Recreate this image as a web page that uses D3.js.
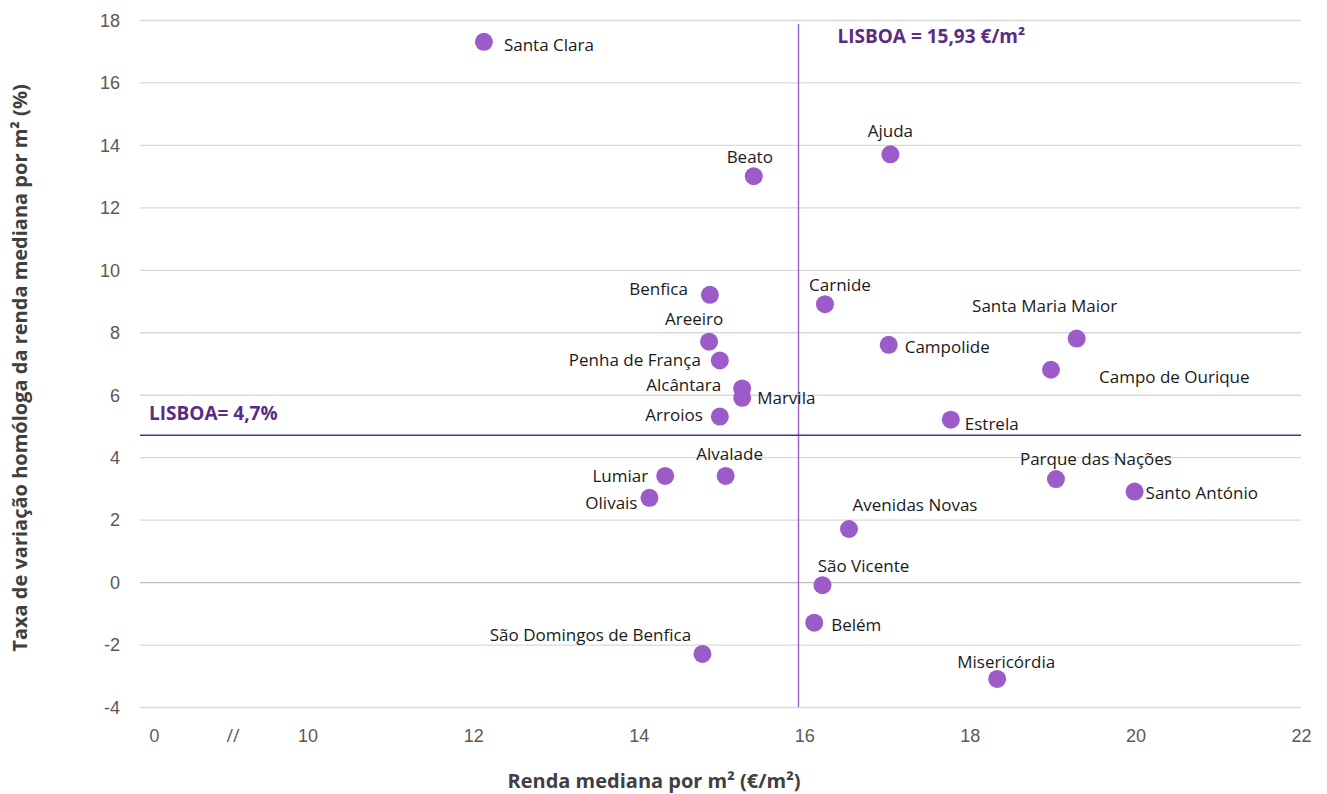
<!DOCTYPE html>
<html>
<head>
<meta charset="utf-8">
<script src="https://cdn.jsdelivr.net/npm/d3@7"></script>
<style>
  html, body { margin: 0; padding: 0; background: #ffffff; }
  svg { display: block; font-family: "Open Sans", Lato, sans-serif; }
</style>
</head>
<body>
<svg id="chart" width="1327" height="794"></svg>
<script>
// Parishes (freguesias) of Lisbon
const parishes = [
  "Santa Clara", "Beato", "Ajuda", "Benfica", "Carnide", "Areeiro",
  "Penha de França", "Alcântara", "Marvila", "Arroios", "Campolide",
  "Santa Maria Maior", "Campo de Ourique", "Estrela", "Alvalade", "Lumiar",
  "Olivais", "Parque das Nações", "Santo António", "Avenidas Novas",
  "São Vicente", "Belém", "São Domingos de Benfica", "Misericórdia"
];
// Median rent per m² (€/m²)
const medianRent = [
  12.13, 15.39, 17.04, 14.86, 16.25, 14.85,
  14.98, 15.25, 15.25, 14.98, 17.02,
  19.29, 18.98, 17.77, 15.05, 14.32,
  14.13, 19.04, 19.99, 16.54,
  16.22, 16.12, 14.77, 18.33
];
// Year-on-year change of the median rent per m² (%)
const yoyChange = [
  17.3, 13.0, 13.7, 9.2, 8.9, 7.7,
  7.1, 6.2, 5.9, 5.3, 7.6,
  7.8, 6.8, 5.2, 3.4, 3.4,
  2.7, 3.3, 2.9, 1.7,
  -0.1, -1.3, -2.3, -3.1
];
// City-wide reference values
const lisboaRent = 15.93;
const lisboaChange = 4.7;

// Axis ticks
const xTicks = [10, 12, 14, 16, 18, 20, 22];
const yTicks = [-4, -2, 0, 2, 4, 6, 8, 10, 12, 14, 16, 18];
const xBreakValues = [8.15, 9.1];
const xBreakLabels = ["0", "//"];

// Label placement around each dot: side + pixel nudge
const labelLayout = {
  "Santa Clara":             { anchor: "start",  dx: 20,  dy: 3 },
  "Beato":                   { anchor: "middle", dx: -4,  dy: -19 },
  "Ajuda":                   { anchor: "middle", dx: 0,   dy: -23 },
  "Benfica":                 { anchor: "end",    dx: -22, dy: -6 },
  "Carnide":                 { anchor: "middle", dx: 15,  dy: -19 },
  "Areeiro":                 { anchor: "middle", dx: -15, dy: -23 },
  "Penha de França":         { anchor: "end",    dx: -19, dy: 0 },
  "Alcântara":               { anchor: "end",    dx: -21, dy: -3 },
  "Marvila":                 { anchor: "start",  dx: 15,  dy: 0 },
  "Arroios":                 { anchor: "end",    dx: -17, dy: -2 },
  "Campolide":               { anchor: "start",  dx: 16,  dy: 2 },
  "Santa Maria Maior":       { anchor: "middle", dx: -32, dy: -32 },
  "Campo de Ourique":        { anchor: "start",  dx: 48,  dy: 7 },
  "Estrela":                 { anchor: "start",  dx: 14,  dy: 4 },
  "Alvalade":                { anchor: "middle", dx: 4,   dy: -22 },
  "Lumiar":                  { anchor: "end",    dx: -17, dy: 0 },
  "Olivais":                 { anchor: "end",    dx: -12, dy: 5 },
  "Parque das Nações":       { anchor: "middle", dx: 40,  dy: -20 },
  "Santo António":           { anchor: "start",  dx: 11,  dy: 2 },
  "Avenidas Novas":          { anchor: "middle", dx: 66,  dy: -24 },
  "São Vicente":             { anchor: "middle", dx: 41,  dy: -19 },
  "Belém":                   { anchor: "start",  dx: 17,  dy: 2 },
  "São Domingos de Benfica": { anchor: "middle", dx: -112, dy: -19 },
  "Misericórdia":            { anchor: "middle", dx: 9,   dy: -17 }
};

const points = parishes.map((name, i) => ({ name, x: medianRent[i], y: yoyChange[i] }));

const svg = d3.select("#chart");
const plotLeft = 142, plotRight = 1301, plotTop = 20, plotBottom = 707;

const x = d3.scaleLinear().domain([8, 22]).range([plotLeft, plotRight]);
const y = d3.scaleLinear().domain([-4, 18]).range([plotBottom, plotTop]);

// Horizontal gridlines with y tick labels
const yAxis = d3.axisLeft(y).tickValues(yTicks).tickSize(-(plotRight - plotLeft + 2)).tickPadding(20).tickFormat(d3.format("d"));
const gy = svg.append("g").attr("transform", `translate(${plotLeft - 2},0)`).call(yAxis);
gy.select(".domain").remove();
gy.selectAll(".tick line").attr("stroke", d => d === 0 ? "#bfbfbf" : "#d9d9d9").attr("stroke-width", 1.3);
gy.selectAll(".tick text")
  .attr("fill", "#595959").attr("font-size", 18).attr("dy", "0.35em")
  .text(d => d < 0 ? "-" + Math.abs(d) : d);

// X axis labels (no axis line)
const xAxis = d3.axisBottom(x).tickValues(xTicks).tickSize(0).tickPadding(22).tickFormat(d3.format("d"));
const gx = svg.append("g").attr("transform", `translate(0,${plotBottom})`).call(xAxis);
gx.select(".domain").remove();
gx.selectAll(".tick text").attr("fill", "#595959").attr("font-size", 18);

// Axis break markers on the left end of the x axis
svg.append("g").selectAll("text")
  .data(xBreakValues)
  .join("text")
  .attr("x", d => x(d))
  .attr("y", plotBottom + 22)
  .attr("dy", "0.71em")
  .attr("text-anchor", "middle")
  .attr("fill", "#595959")
  .attr("font-size", 18)
  .text((d, i) => xBreakLabels[i]);

// City reference lines
svg.append("line")
  .attr("x1", x(lisboaRent)).attr("x2", x(lisboaRent))
  .attr("y1", y(-4)).attr("y2", y(17.87))
  .attr("stroke", "#9b6bcb").attr("stroke-width", 1.5);

svg.append("line")
  .attr("x1", plotLeft - 2).attr("x2", plotRight)
  .attr("y1", y(lisboaChange)).attr("y2", y(lisboaChange))
  .attr("stroke", "#5b2c83").attr("stroke-width", 1.5);

svg.append("text")
  .attr("x", x(lisboaRent) + 39).attr("y", 43)
  .attr("fill", "#5b2c83").attr("font-size", 19).attr("font-weight", "bold")
  .text("LISBOA = 15,93 €/m²");

svg.append("text")
  .attr("x", 149).attr("y", y(lisboaChange) - 15)
  .attr("fill", "#5b2c83").attr("font-size", 19).attr("font-weight", "bold")
  .text("LISBOA= 4,7%");

// Dots
svg.append("g").selectAll("circle")
  .data(points)
  .join("circle")
  .attr("cx", d => x(d.x))
  .attr("cy", d => y(d.y))
  .attr("r", 9)
  .attr("fill", "#9b5bc8");

// Parish labels
svg.append("g").selectAll("text")
  .data(points)
  .join("text")
  .attr("x", d => x(d.x) + labelLayout[d.name].dx)
  .attr("y", d => y(d.y) + labelLayout[d.name].dy)
  .attr("dy", "0.35em")
  .attr("text-anchor", d => labelLayout[d.name].anchor)
  .attr("fill", "#1a1a1a")
  .attr("font-size", 17)
  .text(d => d.name);

// Axis titles
svg.append("text")
  .attr("x", 654).attr("y", 788)
  .attr("text-anchor", "middle")
  .attr("fill", "#404040").attr("font-size", 20).attr("font-weight", "bold")
  .text("Renda mediana por m² (€/m²)");

svg.append("text")
  .attr("transform", "translate(27,368) rotate(-90)")
  .attr("text-anchor", "middle")
  .attr("fill", "#404040").attr("font-size", 20).attr("font-weight", "bold")
  .text("Taxa de variação homóloga da renda mediana por m² (%)");
</script>
</body>
</html>
